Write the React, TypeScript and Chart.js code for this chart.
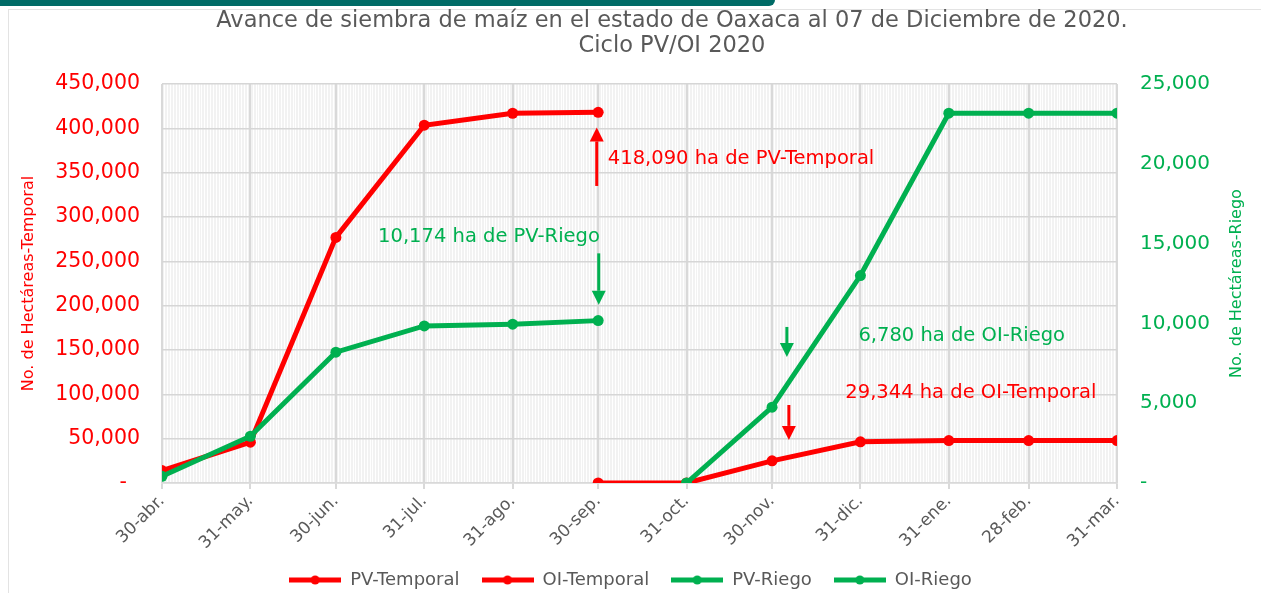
import React, { useEffect, useRef } from "react";
import { Chart, registerables } from "chart.js";

Chart.register(...registerables);

// ---- data ----
const dates = [
  "2020-04-30", "2020-05-31", "2020-06-30", "2020-07-31", "2020-08-31", "2020-09-30",
  "2020-10-31", "2020-11-30", "2020-12-31", "2021-01-31", "2021-02-28", "2021-03-31",
];
const tickLabels = [
  "30-abr.", "31-may.", "30-jun.", "31-jul.", "31-ago.", "30-sep.",
  "31-oct.", "30-nov.", "31-dic.", "31-ene.", "28-feb.", "31-mar.",
];
const pvTemporal = [14000, 46000, 277000, 403500, 417000, 418090, null, null, null, null, null, null];
const oiTemporal = [null, null, null, null, null, 0, 0, 25000, 46500, 47800, 47800, 47800];
const pvRiego = [420, 2930, 8200, 9840, 9950, 10174, null, null, null, null, null, null];
const oiRiego = [null, null, null, null, null, null, 0, 4750, 13000, 23170, 23170, 23170];

const titleLines = [
  "Avance de siembra de maíz en el estado de Oaxaca al 07 de Diciembre de 2020.",
  "Ciclo PV/OI 2020",
];
const leftTitle = "No. de Hectáreas-Temporal";
const rightTitle = "No. de Hectáreas-Riego";

// annotations: x in days from first date, y in left-axis units
const notes = [
  { text: "418,090 ha de PV-Temporal", color: "#ff0000", day: 156.4, y: 366000, align: "left" },
  { text: "10,174 ha de PV-Riego", color: "#00b050", day: 153.6, y: 277000, align: "right" },
  { text: "6,780 ha de OI-Riego", color: "#00b050", day: 244.3, y: 166000, align: "left" },
  { text: "29,344 ha de OI-Temporal", color: "#ff0000", day: 239.7, y: 101700, align: "left" },
];
const arrows = [
  { color: "#ff0000", day: 152.5, from: 335000, to: 401000 },
  { color: "#00b050", day: 153.2, from: 259000, to: 201000 },
  { color: "#00b050", day: 219.2, from: 176000, to: 142000 },
  { color: "#ff0000", day: 219.9, from: 88000, to: 48600 },
];

const RED = "#ff0000";
const GREEN = "#00b050";
const GRAY_TEXT = "#595959";
const FONT = "DejaVu Sans";
const PAD_BOTTOM = -6;

const DAY = 86400000;
const t0 = Date.parse(dates[0] + "T00:00:00Z");
const dayOffsets = dates.map((d) => Math.round((Date.parse(d + "T00:00:00Z") - t0) / DAY));
const lastDay = dayOffsets[dayOffsets.length - 1];

function toPoints(values: (number | null)[]) {
  const pts: { x: number; y: number }[] = [];
  values.forEach((v, i) => {
    if (v !== null) pts.push({ x: dayOffsets[i], y: v });
  });
  return pts;
}

function legendIcon(color: string) {
  const c = document.createElement("canvas");
  c.width = 52;
  c.height = 12;
  const g = c.getContext("2d")!;
  g.strokeStyle = color;
  g.lineWidth = 5;
  g.beginPath();
  g.moveTo(0, 6);
  g.lineTo(52, 6);
  g.stroke();
  g.fillStyle = color;
  g.beginPath();
  g.arc(26, 6, 4.5, 0, Math.PI * 2);
  g.fill();
  return c;
}

const fmt = (v: number) => (v === 0 ? "-  " : v.toLocaleString("en-US"));

const decorPlugin = {
  id: "decor",
  beforeDraw(chart: any) {
    const { ctx, chartArea: a } = chart;
    ctx.save();
    ctx.fillStyle = "#f2f2f2";
    ctx.fillRect(a.left, a.top, a.right - a.left, a.bottom - a.top);
    ctx.restore();
  },
  afterDraw(chart: any) {
    const { ctx, chartArea: a } = chart;
    const xs = chart.scales.x;
    const yl = chart.scales.y;
    ctx.save();
    // title
    ctx.fillStyle = GRAY_TEXT;
    ctx.font = `22.5px "${FONT}"`;
    ctx.textAlign = "center";
    ctx.textBaseline = "middle";
    ctx.fillText(titleLines[0], 672, 21);
    ctx.fillText(titleLines[1], 672, 46);
    // axis titles
    const midY = (a.top + a.bottom) / 2;
    ctx.font = `16px "${FONT}"`;
    ctx.fillStyle = RED;
    ctx.save();
    ctx.translate(29, midY);
    ctx.rotate(-Math.PI / 2);
    ctx.fillText(leftTitle, 0, 0);
    ctx.restore();
    ctx.fillStyle = GREEN;
    ctx.save();
    ctx.translate(1237, midY);
    ctx.rotate(-Math.PI / 2);
    ctx.fillText(rightTitle, 0, 0);
    ctx.restore();
    // notes
    ctx.font = `19.5px "${FONT}"`;
    notes.forEach((n) => {
      ctx.fillStyle = n.color;
      ctx.textAlign = n.align as CanvasTextAlign;
      ctx.fillText(n.text, xs.getPixelForValue(n.day), yl.getPixelForValue(n.y));
    });
    // arrows
    arrows.forEach((ar) => {
      const x = xs.getPixelForValue(ar.day);
      const y1 = yl.getPixelForValue(ar.from);
      const y2 = yl.getPixelForValue(ar.to);
      const dir = y2 > y1 ? 1 : -1;
      const head = 14;
      ctx.strokeStyle = ar.color;
      ctx.fillStyle = ar.color;
      ctx.lineWidth = 3;
      ctx.beginPath();
      ctx.moveTo(x, y1);
      ctx.lineTo(x, y2 - dir * head);
      ctx.stroke();
      ctx.beginPath();
      ctx.moveTo(x, y2);
      ctx.lineTo(x - 7, y2 - dir * head);
      ctx.lineTo(x + 7, y2 - dir * head);
      ctx.closePath();
      ctx.fill();
    });
    ctx.restore();
  },
};

export default function App() {
  const ref = useRef<HTMLCanvasElement | null>(null);

  useEffect(() => {
    if (!ref.current) return;
    const mk = (label: string, values: (number | null)[], color: string, axis: string, order: number) => ({
      label,
      data: toPoints(values),
      borderColor: color,
      backgroundColor: color,
      borderWidth: 5,
      pointRadius: 5.5,
      pointHoverRadius: 5.5,
      pointBorderWidth: 0,
      yAxisID: axis,
      order,
      tension: 0,
    });
    const icons: Record<string, HTMLCanvasElement> = { [RED]: legendIcon(RED), [GREEN]: legendIcon(GREEN) };

    const chart = new Chart(ref.current, {
      type: "line",
      data: {
        datasets: [
          mk("PV-Temporal", pvTemporal, RED, "y", 4),
          mk("OI-Temporal", oiTemporal, RED, "y", 3),
          mk("PV-Riego", pvRiego, GREEN, "y1", 2),
          mk("OI-Riego", oiRiego, GREEN, "y1", 1),
        ] as any,
      },
      options: {
        animation: false,
        responsive: false,
        maintainAspectRatio: false,
        layout: { padding: { top: 84, left: 0, right: 0, bottom: PAD_BOTTOM } },
        plugins: {
          title: { display: false },
          tooltip: { enabled: false },
          legend: {
            position: "bottom",
            labels: {
              usePointStyle: true,
              pointStyleWidth: 52,
              color: GRAY_TEXT,
              font: { family: FONT, size: 18 },
              padding: 22,
              generateLabels: (c: any) => {
                const items = Chart.defaults.plugins.legend.labels.generateLabels(c);
                items.sort((p: any, q: any) => p.datasetIndex - q.datasetIndex);
                return items.map((it: any) => ({
                  ...it,
                  pointStyle: icons[c.data.datasets[it.datasetIndex].borderColor],
                  fontColor: GRAY_TEXT,
                }));
              },
            },
          },
        },
        scales: {
          xm: {
            type: "linear",
            position: "bottom",
            min: 0,
            max: lastDay,
            z: -1,
            afterBuildTicks: (s: any) => {
              const t = [];
              for (let d = 0; d <= lastDay; d++) t.push({ value: d });
              s.ticks = t;
            },
            afterFit: (s: any) => {
              s.height = 0;
            },
            ticks: { display: false },
            border: { display: false },
            grid: { color: "#ffffff", lineWidth: 1, drawTicks: false },
          },
          x: {
            type: "linear",
            position: "bottom",
            min: 0,
            max: lastDay,
            afterBuildTicks: (s: any) => {
              s.ticks = dayOffsets.map((d) => ({ value: d }));
            },
            afterFit: (s: any) => {
              const lh = s.chart.legend ? s.chart.legend.height : 50;
              s.height = s.chart.height - PAD_BOTTOM - 483 - lh;
            },
            ticks: {
              autoSkip: false,
              maxRotation: 45,
              minRotation: 45,
              color: GRAY_TEXT,
              font: { family: FONT, size: 17 },
              padding: 2,
              callback: (_v: any, i: number) => tickLabels[i],
            },
            border: { color: "#d9d9d9", width: 1.5 },
            grid: { color: "#d9d9d9", lineWidth: 2, tickLength: 6 },
          },
          y: {
            type: "linear",
            position: "left",
            min: 0,
            max: 450000,
            afterFit: (s: any) => {
              s.width = 162;
            },
            ticks: {
              stepSize: 50000,
              color: RED,
              font: { family: FONT, size: 20.5 },
              padding: 22,
              callback: (v: any) => fmt(Number(v)),
            },
            border: { display: false },
            grid: { color: "#d6d6d6", lineWidth: 1.5, borderDash: [3, 2], drawTicks: false },
          },
          y1: {
            type: "linear",
            position: "right",
            min: 0,
            max: 25000,
            afterFit: (s: any) => {
              s.width = 1261 - 1117;
            },
            ticks: {
              stepSize: 5000,
              color: GREEN,
              font: { family: FONT, size: 20 },
              padding: 23,
              callback: (v: any) => (Number(v) === 0 ? "-" : Number(v).toLocaleString("en-US")),
            },
            border: { display: false },
            grid: { display: false, drawTicks: false },
          },
        },
      } as any,
      plugins: [decorPlugin as any],
    });
    return () => chart.destroy();
  }, []);

  return (
    <div style={{ position: "fixed", left: 0, top: 0, width: 1261, height: 593, background: "#ffffff", overflow: "hidden" }}>
      <div style={{ position: "absolute", left: 0, top: 0, width: 775, height: 6, background: "#006b66", borderBottomRightRadius: 6 }} />
      <div style={{ position: "absolute", left: 8, top: 9, right: -2, bottom: -2, border: "1px solid #e3e3e3" }} />
      <canvas ref={ref} width={1261} height={593} style={{ position: "absolute", left: 0, top: 0, width: 1261, height: 593 }} />
    </div>
  );
}
